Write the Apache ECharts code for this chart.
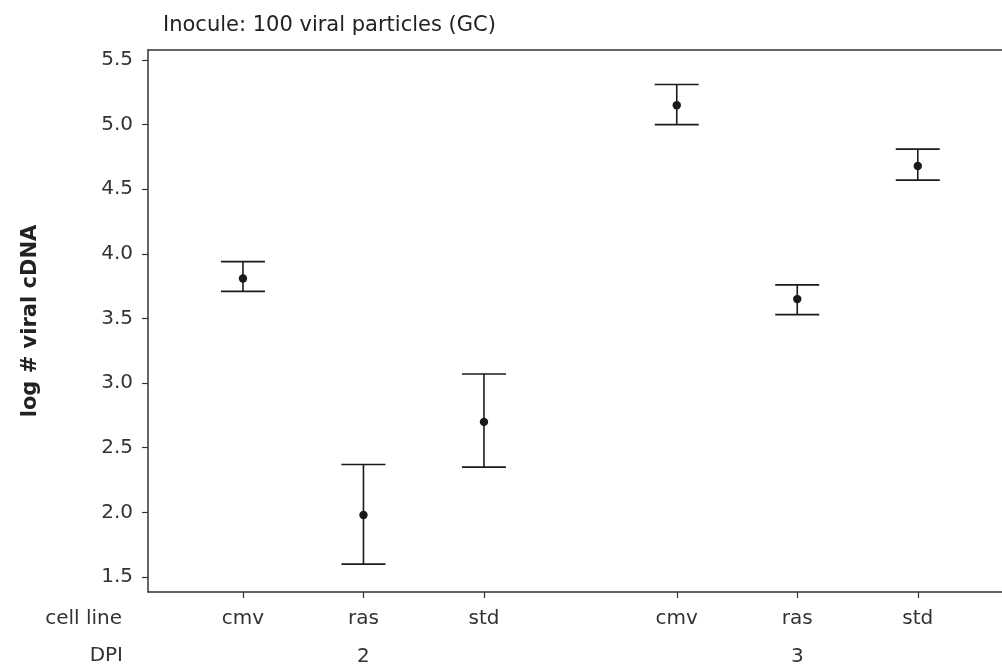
<!DOCTYPE html>
<html>
<head>
<meta charset="utf-8">
<title>log # viral cDNA</title>
<script src="https://cdn.jsdelivr.net/npm/echarts@6/dist/echarts.min.js"></script>
<style>
  html, body { margin: 0; padding: 0; background: #fff; }
  #chart { width: 1002px; height: 667px; }
</style>
</head>
<body>
<div id="chart"></div>
<script>
// data
var cellLines = ['cmv', 'ras', 'std'];
var dpiGroups = ['2', '3'];
var means = [3.81, 1.98, 2.70, 5.15, 3.65, 4.68];
var lower = [3.71, 1.60, 2.35, 5.00, 3.53, 4.57];
var upper = [3.94, 2.37, 3.07, 5.31, 3.76, 4.81];
var yTicks = [1.5, 2.0, 2.5, 3.0, 3.5, 4.0, 4.5, 5.0, 5.5];

// layout: distance between the two DPI groups, in category units
var groupGap = 3.6;
var ink = '#1a1a1a';
var font = 'DejaVu Sans';

// position on the x scale for every point, plus what sits there
var pos = [], posLabel = [], dpiPos = [], rows = [];
dpiGroups.forEach(function (g, gi) {
	cellLines.forEach(function (c, ci) {
		var k = gi * cellLines.length + ci;
		var p = gi * groupGap + ci;
		pos.push(p);
		posLabel.push(c);
		rows.push([p, lower[k], upper[k], means[k]]);
	});
	dpiPos.push(gi * groupGap + 1);
});

function nameAt(list, names, v) {
	for (var i = 0; i < list.length; i++) {
		if (Math.abs(list[i] - v) < 1e-6) return names[i];
	}
	return '';
}

function renderBar(params, api) {
	var x = api.value(0);
	var lo = api.coord([x, api.value(1)]);
	var hi = api.coord([x, api.value(2)]);
	var mid = api.coord([x, api.value(3)]);
	var half = 22;
	var st = { stroke: ink, lineWidth: 1.6 };
	return {
		type: 'group',
		children: [
			{ type: 'line', shape: { x1: lo[0], y1: lo[1], x2: hi[0], y2: hi[1] }, style: st },
			{ type: 'line', shape: { x1: lo[0] - half, y1: lo[1], x2: lo[0] + half, y2: lo[1] }, style: st },
			{ type: 'line', shape: { x1: hi[0] - half, y1: hi[1], x2: hi[0] + half, y2: hi[1] }, style: st },
			{ type: 'circle', shape: { cx: mid[0], cy: mid[1], r: 4.2 }, style: { fill: ink } }
		]
	};
}

var option = {
	backgroundColor: '#fff',
	animation: false,
	textStyle: { fontFamily: font },
	title: {
		text: 'Inocule: 100 viral particles (GC)',
		left: 158,
		top: 10,
		textStyle: { fontSize: 21, fontWeight: 'normal', color: '#222', fontFamily: font }
	},
	grid: { left: 148, top: 50, right: 0, bottom: 75 },
	xAxis: [
		{
			type: 'value',
			position: 'bottom',
			min: -0.788,
			max: 6.299,
			splitLine: { show: false },
			axisLine: { onZero: false, lineStyle: { color: '#333', width: 1.5 } },
			axisTick: { customValues: pos, length: 6, lineStyle: { color: '#333', width: 1.2 } },
			axisLabel: {
				customValues: pos,
				margin: 17,
				fontSize: 20,
				color: '#333',
				formatter: function (v) { return nameAt(pos, posLabel, v); }
			}
		},
		{
			type: 'value',
			position: 'bottom',
			min: -0.788,
			max: 6.299,
			splitLine: { show: false },
			axisLine: { show: false, onZero: false },
			axisTick: { show: false },
			axisLabel: {
				customValues: dpiPos,
				margin: 55,
				fontSize: 20,
				color: '#333',
				formatter: function (v) { return nameAt(dpiPos, dpiGroups, v); }
			}
		},
		{
			type: 'value',
			position: 'top',
			min: -0.788,
			max: 6.299,
			splitLine: { show: false },
			axisLine: { onZero: false, lineStyle: { color: '#333', width: 1.5 } },
			axisTick: { show: false },
			axisLabel: { show: false }
		}
	],
	yAxis: {
		type: 'value',
		min: 1.384,
		max: 5.577,
		name: 'log # viral cDNA',
		nameLocation: 'middle',
		nameGap: 107,
		nameRotate: 90,
		nameTextStyle: { fontSize: 21, fontWeight: 'bold', color: '#222', fontFamily: font },
		splitLine: { show: false },
		axisLine: { show: true, onZero: false, lineStyle: { color: '#333', width: 1.5 } },
		axisTick: { show: true, customValues: yTicks, length: 6, lineStyle: { color: '#333', width: 1.2 } },
		axisLabel: {
			customValues: yTicks,
			margin: 15,
			fontSize: 20,
			color: '#333',
			formatter: function (v) { return v.toFixed(1); }
		}
	},
	graphic: [
		{ type: 'text', right: 1002 - 122, top: 609, style: { text: 'cell line', fontSize: 20, fill: '#333', fontFamily: font } },
		{ type: 'text', right: 1002 - 123, top: 646, style: { text: 'DPI', fontSize: 20, fill: '#333', fontFamily: font } }
	],
	series: [
		{
			type: 'custom',
			xAxisIndex: 0,
			renderItem: renderBar,
			encode: { x: 0, y: [1, 2, 3] },
			data: rows
		}
	]
};

var chart = echarts.init(document.getElementById('chart'));
chart.setOption(option);
window.onresize = chart.resize;
</script>
</body>
</html>
